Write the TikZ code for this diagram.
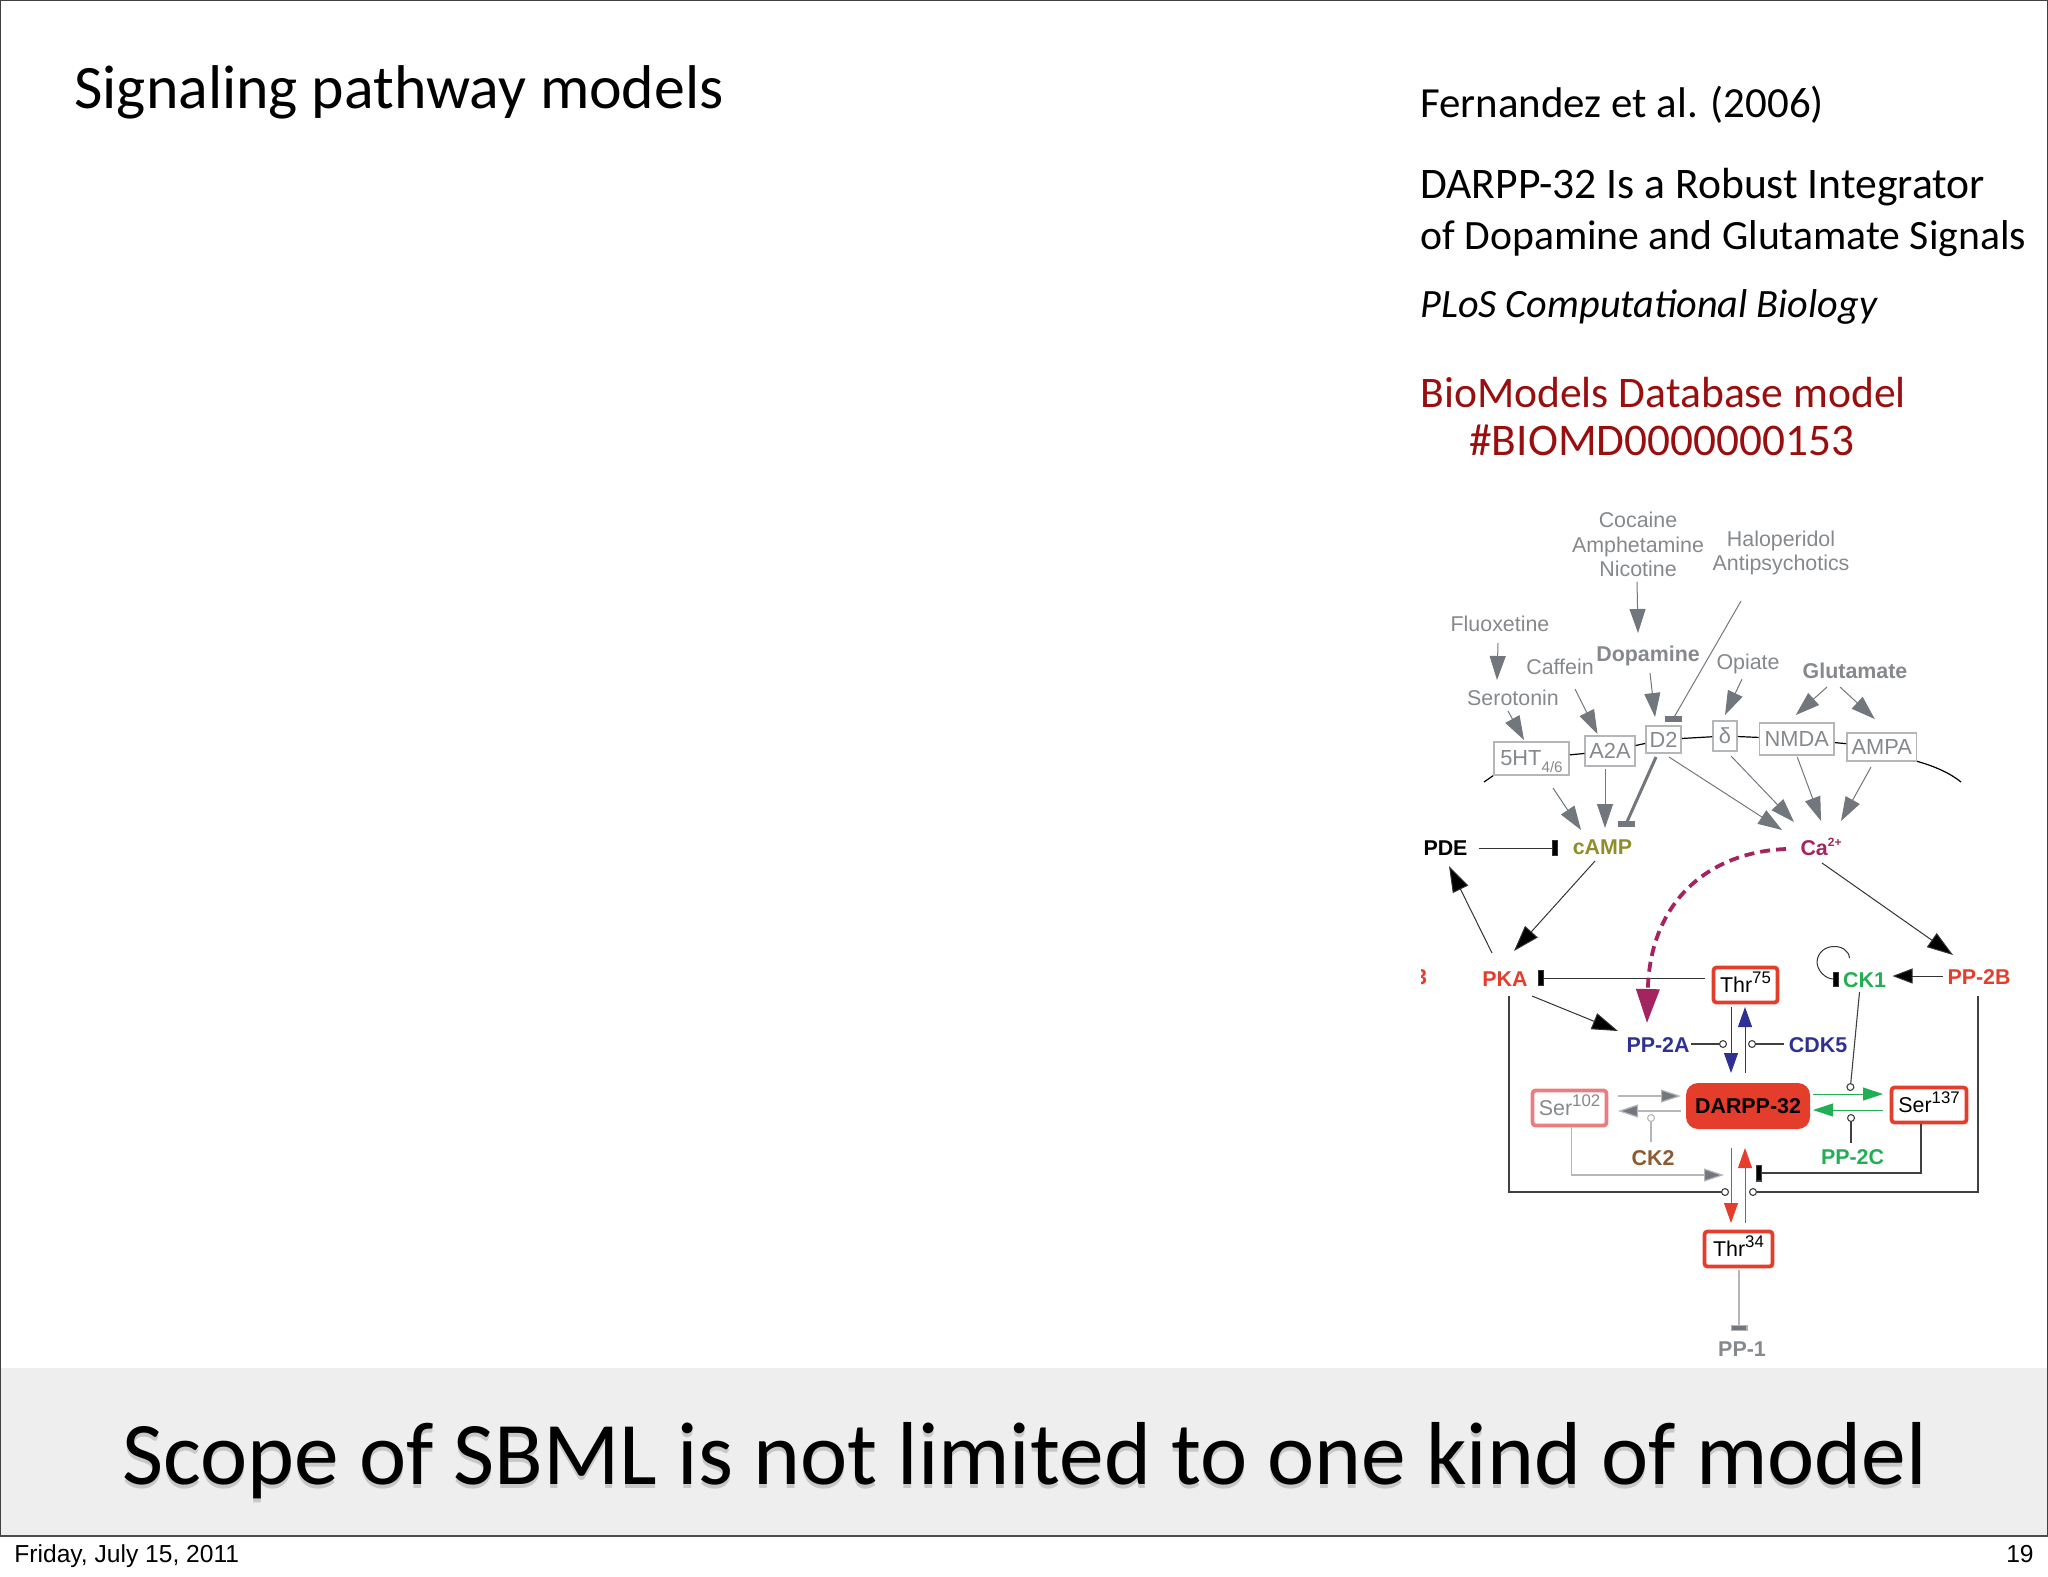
\documentclass[tikz,border=0pt]{standalone}
\usepackage{fontspec}
\usetikzlibrary{arrows.meta}
\setmainfont{Carlito}
\newfontfamily\helv{Liberation Sans}
\definecolor{panelgray}{HTML}{EEEEEF}
\definecolor{shadowgray}{HTML}{C8C8CA}
\definecolor{titlered}{HTML}{990F0F}
\definecolor{labgray}{HTML}{85888C}
\definecolor{tipgray}{HTML}{72777E}
\definecolor{boxgray}{HTML}{B4B6B8}
\definecolor{rxred}{HTML}{E43D2B}
\definecolor{rxpink}{HTML}{EA7D80}
\definecolor{rxblue}{HTML}{2E3192}
\definecolor{rxgreen}{HTML}{22AE55}
\definecolor{rxolive}{HTML}{8E8E2C}
\definecolor{rxbrown}{HTML}{8C5A30}
\definecolor{rxplum}{HTML}{A3245F}
\newcommand{\upnum}[2][8.4]{\raisebox{0.42em}[0pt][0pt]{\fontsize{#1}{#1}\selectfont #2}}
\newcommand{\downnum}[1]{\raisebox{-0.32em}[0pt][0pt]{\fontsize{7.6}{7.6}\selectfont #1}}
\tikzset{
  slidetext/.style={anchor=base west,inner sep=0pt},
  greylab/.style={inner sep=0pt,align=center,text=labgray,font=\helv\fontsize{10.7}{12.25}\selectfont},
  boldlab/.style={inner sep=0pt,font=\helv\bfseries\fontsize{10.7}{12.25}\selectfont},
  recbox/.style={draw=boxgray,line width=0.8pt,inner sep=0pt,text=labgray,font=\helv\fontsize{10.9}{12.25}\selectfont},
  sitebox/.style={draw=rxred,line width=1.9pt,rounded corners=1.5pt,inner sep=0pt,fill=white,font=\helv\fontsize{10.7}{12.25}\selectfont},
  thinline/.style={line width=0.5pt,draw=tipgray},
  greyarrow/.style={thinline,-{Triangle[length=12pt,width=8pt,fill=tipgray]}},
  smallgrey/.style={line width=0.6pt,draw=boxgray,-{Triangle[length=10pt,width=6.5pt,fill=tipgray]}},
  blackarrow/.style={line width=0.5pt,draw=black!80,-{Triangle[length=13pt,width=8.5pt,fill=black]}},
  blackbar/.style={line width=0.5pt,draw=black!80,-{Rectangle[length=3pt,width=8pt,fill=black]}},
  circleline/.style={line width=0.55pt,draw=black!75,-{Circle[open,fill=white,length=4pt,width=4pt]}},
  bluearrow/.style={line width=0.5pt,draw=rxblue,-{Triangle[length=10pt,width=7pt,fill=rxblue]}},
  greenarrow/.style={line width=0.5pt,draw=rxgreen,-{Triangle[length=10pt,width=6.5pt,fill=rxgreen]}},
  redarrow/.style={line width=0.5pt,draw=rxred,-{Triangle[length=10pt,width=7pt,fill=rxred]}}
}
\begin{document}
\begin{tikzpicture}[x=0.5pt,y=-0.5pt]
\useasboundingbox (0,0) rectangle (2048,1576);
\fill[panelgray] (1,1368) rectangle (2047,1535);
\draw[line width=0.6pt,draw=black!75] (0.5,1536) -- (0.5,0.5) -- (2047.5,0.5) -- (2047.5,1536);
\draw[line width=1.2pt,draw=black!70] (0,1536) -- (2048,1536);

\node[slidetext,font=\fontsize{30.9}{32}\selectfont] (title) at (74,108) {Signaling pathway models};
\node[slidetext,font=\fontsize{21.45}{24}\selectfont] (paper) at (1420,117) {Fernandez et al. (2006)};
\node[slidetext,font=\fontsize{21.8}{24}\selectfont] (paperone) at (1420,198) {DARPP-32 Is a Robust Integrator};
\node[slidetext,font=\fontsize{20.85}{24}\selectfont] (papertwo) at (1420,249) {of Dopamine and Glutamate Signals};
\node[slidetext,font=\fontsize{20.1}{24}\itshape] (journal) at (1420,317) {PLoS Computational Biology};
\node[slidetext,text=titlered,font=\fontsize{21.8}{24}\selectfont] (biomodels) at (1420,407) {BioModels Database model};
\node[slidetext,text=titlered,font=\fontsize{22.65}{24}\selectfont] (biomd) at (1469,455) {\#BIOMD0000000153};
\node[slidetext,font=\fontsize{44.7}{46}\selectfont] (scope) at (122,1484)
  {\rlap{\raisebox{-2pt}{\textcolor{shadowgray}{Scope of SBML is not limited to one kind of model}}}Scope of SBML is not limited to one kind of model};
\node[anchor=base west,inner sep=0pt,font=\helv\fontsize{12.3}{13}\selectfont] (date) at (14,1562) {Friday, July 15, 2011};
\node[anchor=base east,inner sep=0pt,font=\helv\fontsize{12.3}{13}\selectfont] (pagenum) at (2034,1562) {19};

\node[greylab] (cocaine) at (1638,544.5) {Cocaine\\Amphetamine\\Nicotine};
\node[greylab] (halo) at (1781,553) {Haloperidol\\Antipsychotics};
\node[greylab] (fluox) at (1500,624) {Fluoxetine};
\node[greylab] (sero) at (1513,698) {Serotonin};
\node[greylab] (caff) at (1560,667) {Caffein};
\node[greylab,font=\helv\bfseries\fontsize{10.7}{12}\selectfont] (dopa) at (1648,656) {Dopamine};
\node[greylab] (opi) at (1748,664) {Opiate};
\node[greylab,font=\helv\bfseries\fontsize{10.7}{12}\selectfont] (glu) at (1855,671) {Glutamate};

\draw[line width=0.6pt] (1484,782) -- (1494,775);
\draw[line width=0.6pt] (1916,761) .. controls (1934,766) and (1950,773) .. (1961,782);
\node[recbox,minimum width=37.5pt,minimum height=16.5pt] (htr) at (1531.5,758.5) {5HT\downnum{4/6}};
\node[recbox,minimum width=24.75pt,minimum height=15pt] (atwo) at (1610,751) {A2A};
\node[recbox,minimum width=17.5pt,minimum height=13.5pt] (dtwo) at (1663.5,739.5) {D2};
\node[recbox,minimum width=12pt,minimum height=15pt] (delta) at (1725,736) {δ};
\node[recbox,minimum width=37.25pt,minimum height=16pt] (nmda) at (1796.75,739) {NMDA};
\node[recbox,minimum width=34.75pt,minimum height=14pt] (ampa) at (1881.75,747) {AMPA};
\draw[line width=0.6pt] (htr) -- (atwo);
\draw[line width=0.6pt] (atwo) -- (dtwo);
\draw[line width=0.6pt] (dtwo) -- (delta);
\draw[line width=0.6pt] (delta) -- (nmda);
\draw[line width=0.6pt] (nmda) -- (ampa);

\node[boldlab,text=black] (pde) at (1445.5,848) {PDE};
\node[boldlab,text=rxolive] (camp) at (1602.5,847) {cAMP};
\node[boldlab,text=rxplum] (calc) at (1821,848) {Ca\upnum[6]{2+}};
\node[boldlab,text=rxred] (pka) at (1505,979) {PKA};
\node[boldlab,text=rxred] (pptwob) at (1979,977) {PP-2B};
\node[boldlab,text=rxgreen] (ckone) at (1864.5,980) {CK1};
\node[boldlab,text=rxblue] (pptwoa) at (1658,1045) {PP-2A};
\node[boldlab,text=rxblue] (cdkfive) at (1818,1045) {CDK5};
\node[boldlab,text=rxbrown] (cktwo) at (1653,1158) {CK2};
\node[boldlab,text=rxgreen] (pptwoc) at (1852.5,1157) {PP-2C};
\node[boldlab,text=labgray] (ppone) at (1742,1349) {PP-1};
\begin{scope}
\clip (1421,950) rectangle (1440,1000);
\node[boldlab,text=rxred] (pkb) at (1421,977) {3};
\end{scope}

\node[sitebox,minimum width=32pt,minimum height=17.5pt] (thrsf) at (1745.5,985) {Thr\upnum{75}};
\node[sitebox,minimum width=37pt,minimum height=17.5pt,draw=rxpink,text=labgray] (serot) at (1569.5,1108) {Ser\upnum{102}};
\node[sitebox,minimum width=37.5pt,minimum height=17.5pt] (sertt) at (1929,1105) {Ser\upnum{137}};
\node[sitebox,minimum width=34pt,minimum height=17.5pt] (thrtf) at (1738.5,1249) {Thr\upnum{34}};
\node[fill=rxred,rounded corners=6pt,minimum width=62pt,minimum height=23pt,inner sep=0pt,font=\helv\bfseries\fontsize{10.7}{12}\selectfont] (darpp) at (1748,1106) {DARPP-32};

\coordinate (modtwoa) at (1727,1044);
\coordinate (modcdk) at (1748,1044);
\coordinate (modcktwo) at (1651,1114);
\coordinate (modppc) at (1851,1114);
\coordinate (modpka) at (1729,1192);
\coordinate (modppb) at (1749,1192);
\coordinate (modserot) at (1724,1175);
\coordinate (modsertt) at (1755.5,1173);

\draw[greyarrow] ([shift={(-1,37)}]cocaine.center) -- ([shift={(-10,-23)}]dopa.center);
\draw[greyarrow] ([shift={(-2,19)}]fluox.center) -- ([shift={(-16,-18)}]sero.center);
\draw[greyarrow] ([shift={(-5,13)}]sero.center) -- ([shift={(-7.5,-18.5)}]htr.center);
\draw[greyarrow] ([shift={(15,22)}]caff.center) -- ([shift={(-12.5,-17)}]atwo.center);
\draw[greyarrow] ([shift={(2,17)}]dopa.center) -- ([shift={(-8.5,-22.5)}]dtwo.center);
\draw[greyarrow] ([shift={(-6,15)}]opi.center) -- ([shift={(0,-21)}]delta.center);
\draw[greyarrow] ([shift={(-28,16)}]glu.center) -- ([shift={(-1,-24)}]nmda.center);
\draw[greyarrow] ([shift={(-15,16)}]glu.center) -- ([shift={(-7,-28)}]ampa.center);
\draw[greyarrow] ([shift={(21.5,29.5)}]htr.center) -- ([shift={(-21.5,-17)}]camp.center);
\draw[greyarrow] ([shift={(-5,18)}]atwo.center) -- ([shift={(2.5,-19)}]camp.center);
\draw[greyarrow] ([shift={(5.5,17.5)}]dtwo.center) -- ([shift={(-39,-18)}]calc.center);
\draw[greyarrow] ([shift={(6,20)}]delta.center) -- ([shift={(-27,-26)}]calc.center);
\draw[greyarrow] ([shift={(0.5,18)}]nmda.center) -- ([shift={(0,-27)}]calc.center);
\draw[greyarrow] ([shift={(-10.75,20)}]ampa.center) -- ([shift={(20,-27)}]calc.center);
\draw[thinline] ([shift={(-40,48)}]halo.center) -- ([shift={(9.5,-20.5)}]dtwo.center);
\draw[line width=3pt,draw=tipgray] ([shift={(1,-20.5)}]dtwo.center) -- ([shift={(18,-20.5)}]dtwo.center);
\draw[line width=1.5pt,draw=tipgray] ([shift={(-7.5,17.5)}]dtwo.center) -- ([shift={(23.5,-23)}]camp.center);
\draw[line width=3pt,draw=tipgray] ([shift={(15.5,-23)}]camp.center) -- ([shift={(32.5,-23)}]camp.center);

\draw[blackbar] ([shift={(33,0)}]pde.center) -- ([shift={(-44.5,1)}]camp.center);
\draw[blackarrow] ([shift={(-13,-26)}]pka.center) -- ([shift={(3.5,18)}]pde.center);
\draw[blackarrow] ([shift={(-7.5,14)}]camp.center) -- ([shift={(9,-28)}]pka.center);
\draw[blackarrow] ([shift={(1,15)}]calc.center) -- ([shift={(-26,-22)}]pptwob.center);
\draw[blackarrow] ([shift={(27,17)}]pka.center) -- ([shift={(-40,-14)}]pptwoa.center);
\draw[blackarrow,-{Triangle[length=10pt,width=7.5pt,fill=black]}] ([shift={(-36,-1)}]pptwob.center) -- ([shift={(28,-4)}]ckone.center);
\draw[blackbar] ([shift={(-40.5,-7)}]thrsf.center) -- ([shift={(33,-1)}]pka.center);
\draw[blackbar,-{Rectangle[length=3pt,width=7.5pt,fill=black]}] ([shift={(-15,-22)}]ckone.center) .. controls (1848,942) and (1818,942) .. (1817,962) .. controls (1817,970) and (1825,979) .. ([shift={(-25.5,-1)}]ckone.center);
\draw[line width=1.9pt,draw=rxplum,dash pattern=on 5pt off 3pt,-{Triangle[length=17pt,width=11.5pt,fill=rxplum]}] ([shift={(-35,1)}]calc.center) .. controls (1710,852) and (1650,900) .. ([shift={(-11,-22)}]pptwoa.center);

\draw[bluearrow] ([shift={(-14.5,22)}]thrsf.center) -- ([shift={(-17,-33)}]darpp.center);
\draw[bluearrow] ([shift={(-3,-33)}]darpp.center) -- ([shift={(-0.5,22)}]thrsf.center);
\draw[smallgrey] ([shift={(48.5,-12)}]serot.center) -- ([shift={(-67,-10)}]darpp.center);
\draw[smallgrey] ([shift={(-67,5)}]darpp.center) -- ([shift={(48.5,3)}]serot.center);
\draw[greenarrow] ([shift={(65,-12)}]darpp.center) -- ([shift={(-46,-11)}]sertt.center);
\draw[greenarrow] ([shift={(-46,5)}]sertt.center) -- ([shift={(65,4)}]darpp.center);
\draw[redarrow] ([shift={(-17,42)}]darpp.center) -- ([shift={(-7.5,-26)}]thrtf.center);
\draw[redarrow] ([shift={(6.5,-26)}]thrtf.center) -- ([shift={(-3,42)}]darpp.center);

\draw[circleline] ([shift={(33,-1)}]pptwoa.center) -- (modtwoa);
\draw[circleline] ([shift={(-34.5,-1)}]cdkfive.center) -- (modcdk);
\draw[circleline] ([shift={(-5,12)}]ckone.center) -- ([shift={(102,-15)}]darpp.center);
\draw[circleline,draw=boxgray] ([shift={(-2,-16)}]cktwo.center) -- (modcktwo);
\draw[circleline] ([shift={(-1.5,-14)}]pptwoc.center) -- (modppc);
\draw[circleline] ([shift={(4,17)}]pka.center) |- (modpka);
\draw[circleline] ([shift={(-1,19)}]pptwob.center) |- (modppb);
\draw[smallgrey] ([shift={(2,19)}]serot.center) |- (modserot);
\draw[line width=0.55pt,draw=black!75,-{Rectangle[length=3.2pt,width=8.5pt,fill=black]}] ([shift={(-8,19)}]sertt.center) |- (modsertt);
\draw[line width=0.6pt,draw=boxgray,-{Rectangle[length=3pt,width=8.5pt,fill=tipgray]}] ([shift={(0.5,21)}]thrtf.center) -- ([shift={(-3,-18)}]ppone.center);
\end{tikzpicture}
\end{document}
